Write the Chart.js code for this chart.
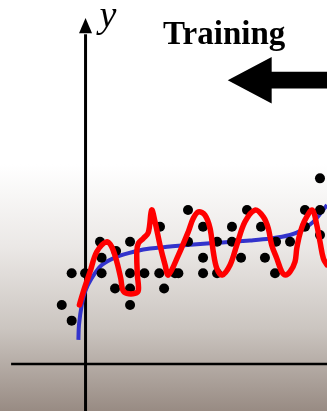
<!DOCTYPE html>
<html>
<head>
<meta charset="utf-8">
<script src="https://cdn.jsdelivr.net/npm/chart.js@4.4.1/dist/chart.umd.min.js"></script>
<style>
  html, body { margin: 0; padding: 0; background: #fff; }
  #wrap { width: 327px; height: 411px; }
</style>
</head>
<body>
<div id="wrap"><canvas id="fitChart" width="327" height="411"></canvas></div>
<script>
// ---- DATA ----
// training samples (x, y)
const dotX = [16.06,
  7.02, 11.06, 15.03, 16.06,
  5.10, 8.05, 10.03, 12.02, 15.03,
  16.06,
  0.99, 3.05, 7.02, 9.01, 10.03, 13.05, 14.01,
  2.09,
  1.10, 8.05, 10.65, 12.29,
  -0.95, -0.03, 1.10, 3.05, 4.03, 5.05, 6.13, 6.36, 8.05, 9.01, 12.98,
  2.02, 3.05, 5.38,
  -1.63, 3.05,
  -0.95];
const dotY = [11.83,
  9.81, 9.81, 9.81, 9.81,
  8.75, 8.75, 8.75, 8.75, 8.75,
  8.22,
  7.79, 7.79, 7.79, 7.79, 7.79, 7.79, 7.79,
  7.20,
  6.77, 6.77, 6.77, 6.77,
  5.78, 5.78, 5.78, 5.78, 5.78, 5.78, 5.78, 5.78, 5.78, 5.78, 5.78,
  4.81, 4.81, 4.81,
  3.76, 3.76,
  2.76];

// overfitted curve (red)
const redX = [-0.42, -0.15, 0.31, 0.77, 1.45, 1.79, 2.14, 2.41, 2.55, 2.82, 3.39, 3.62, 3.55, 3.51, 3.62, 3.96, 4.30,
  4.53, 4.76, 5.10, 5.45, 5.67, 6.36, 7.04, 7.38, 7.73, 8.18, 8.53, 8.75, 8.99, 9.35, 9.90, 10.36, 10.92,
  11.61, 12.18, 12.52, 12.75, 13.10, 13.44, 13.70, 14.01, 14.35, 14.47, 14.69, 15.03, 15.53, 15.84, 16.06, 16.29, 16.54];
const redY = [3.76, 4.61, 5.88, 7.15, 7.79, 7.47, 6.52, 5.46, 4.71, 4.50, 4.50, 4.71, 5.67, 7.15, 7.69, 8.01, 8.38,
  9.81, 9.06, 7.58, 6.31, 5.67, 6.94, 8.43, 9.28, 9.70, 9.49, 8.64, 7.15, 6.10, 5.67, 6.31, 7.58, 9.06,
  9.81, 9.38, 8.64, 7.58, 6.73, 5.88, 5.67, 5.88, 6.52, 7.37, 8.32, 9.17, 9.81, 8.85, 7.79, 6.73, 6.31];

// smooth fit (blue)
const blueX = [-0.49, -0.45, -0.26, -0.03, 0.42, 1.11, 2.14, 3.51, 4.42, 5.79, 6.95, 9.21, 11.27, 12.64, 14.01, 14.83, 15.58, 16.18, 16.54];
const blueY = [1.53, 2.48, 3.76, 4.61, 5.46, 6.31, 6.83, 7.20, 7.36, 7.48, 7.58, 7.74, 7.87, 7.99, 8.22, 8.54, 9.04, 9.70, 10.13];

const xRange = [-5.86, 16.54];
const yRange = [-3.0, 23.2];

const toPoints = (xs, ys) => xs.map((x, i) => ({ x, y: ys[i] }));

// ---- DECORATION ----
const backdrop = {
  id: 'backdrop',
  beforeDraw(c) {
    const ctx = c.ctx;
    const g = ctx.createLinearGradient(0, 0, 0, c.height);
    g.addColorStop(0, '#ffffff');
    g.addColorStop(0.4, '#ffffff');
    g.addColorStop(0.6, '#ebe8e6');
    g.addColorStop(0.8, '#cbc5c0');
    g.addColorStop(1, '#988b83');
    ctx.save();
    ctx.fillStyle = g;
    ctx.fillRect(0, 0, c.width, c.height);
    ctx.restore();
  }
};

const axesArrows = {
  id: 'axesArrows',
  beforeDatasetsDraw(c) {
    const { ctx, scales: { x, y } } = c;
    const x0 = x.getPixelForValue(0), y0 = y.getPixelForValue(0);
    ctx.save();
    ctx.strokeStyle = '#000';
    ctx.fillStyle = '#000';

    // x axis
    ctx.lineWidth = 2.5;
    ctx.beginPath();
    ctx.moveTo(x.getPixelForValue(-5.1), y0);
    ctx.lineTo(x.getPixelForValue(xRange[1]), y0);
    ctx.stroke();

    // y axis with arrow head
    const tip = y.getPixelForValue(22.05), base = y.getPixelForValue(21.08);
    ctx.lineWidth = 3;
    ctx.beginPath();
    ctx.moveTo(x0, y.getPixelForValue(yRange[0]));
    ctx.lineTo(x0, base + 1);
    ctx.stroke();
    ctx.beginPath();
    ctx.moveTo(x0, tip);
    ctx.lineTo(x0 - 6.5, base);
    ctx.lineTo(x0 + 6.5, base);
    ctx.closePath();
    ctx.fill();

    ctx.font = 'italic 38px "Liberation Serif", "Times New Roman", serif';
    ctx.fillText('y', x.getPixelForValue(0.95), y.getPixelForValue(21.45));

    // "Training" + big left arrow
    ctx.font = 'bold 33px "Liberation Serif", "Times New Roman", serif';
    ctx.fillText('Training', x.getPixelForValue(5.31), y.getPixelForValue(20.38));

    const ax = x.getPixelForValue(9.74), hx = x.getPixelForValue(12.75), ex = x.getPixelForValue(xRange[1]) + 2;
    ctx.beginPath();
    ctx.moveTo(ax, y.getPixelForValue(18.09));
    ctx.lineTo(hx, y.getPixelForValue(19.57));
    ctx.lineTo(hx, y.getPixelForValue(18.62));
    ctx.lineTo(ex, y.getPixelForValue(18.62));
    ctx.lineTo(ex, y.getPixelForValue(17.56));
    ctx.lineTo(hx, y.getPixelForValue(17.56));
    ctx.lineTo(hx, y.getPixelForValue(16.61));
    ctx.closePath();
    ctx.fill();
    ctx.restore();
  }
};

// ---- CHART ----
new Chart(document.getElementById('fitChart'), {
  type: 'scatter',
  data: {
    datasets: [
      {
        label: 'overfit',
        data: toPoints(redX, redY),
        showLine: true,
        borderColor: '#ff0000',
        borderWidth: 5.5,
        pointRadius: 0,
        tension: 0.35,
        borderCapStyle: 'round',
        borderJoinStyle: 'round',
        order: 0,
      },
      {
        label: 'samples',
        data: toPoints(dotX, dotY),
        backgroundColor: '#000',
        borderWidth: 0,
        pointRadius: 5,
        order: 1,
      },
      {
        label: 'fit',
        data: toPoints(blueX, blueY),
        showLine: true,
        borderColor: '#3333cc',
        borderWidth: 4,
        pointRadius: 0,
        tension: 0.35,
        order: 2,
      },
    ]
  },
  options: {
    responsive: false,
    animation: false,
    layout: { padding: 0, autoPadding: false },
    plugins: { legend: { display: false }, tooltip: { enabled: false } },
    scales: {
      x: { type: 'linear', display: false, min: xRange[0], max: xRange[1] },
      y: { type: 'linear', display: false, min: yRange[0], max: yRange[1] },
    }
  },
  plugins: [backdrop, axesArrows]
});
</script>
</body>
</html>
